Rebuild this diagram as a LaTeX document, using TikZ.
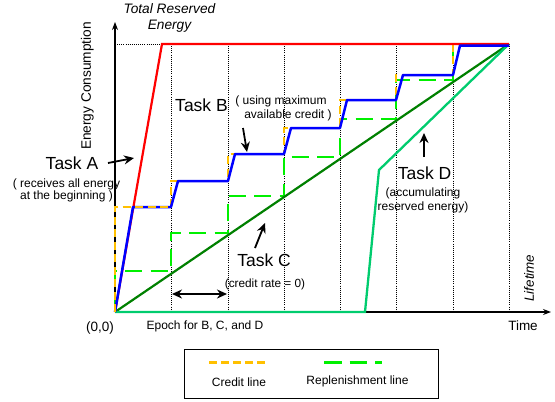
\documentclass[tikz,border=0pt]{standalone}
\usepackage{fontspec}
\setmainfont{Liberation Sans}
\usetikzlibrary{arrows.meta}
\definecolor{creditc}{RGB}{255,192,0}
\definecolor{replc}{RGB}{0,240,0}
\definecolor{taskcc}{RGB}{0,128,0}
\definecolor{taskdc}{RGB}{0,204,110}
\begin{document}
\begin{tikzpicture}[x=1pt,y=-1pt,
  lbl/.style={inner sep=0pt, font=\fontsize{#1}{#1}\selectfont, text height={0.72*#1pt}, text depth=0pt},
  ilbl/.style={inner sep=0pt, font=\fontsize{#1}{#1}\selectfont\itshape, text height={0.72*#1pt}, text depth=0pt},
  dotln/.style={black, line width=0.7pt, dash pattern=on 0.8pt off 1.3pt},
  axisln/.style={black, line width=1.1pt, -{Stealth[length=8pt,width=6pt]}},
  replln/.style={replc, line width=2.5pt, dash pattern=on 17pt off 8.5pt},
  creditln/.style={creditc, line width=2.5pt, dash pattern=on 8pt off 4.5pt},
  taskarrow/.style={black, line width=1.8pt, -{Stealth[length=10pt,width=9pt]}},
]
\useasboundingbox (0,0) rectangle (555,402);

% coordinates
\coordinate (O) at (115,312);
\coordinate (ytip) at (115,22);
\coordinate (xtip) at (551,312);
\coordinate (top) at (509,44);

% dotted guides
\foreach \x in {171,228,284,340,396,453,509}
  \draw[dotln] (\x,44) -- (\x,312);
\draw[dotln] (O |- top) -- (162,44);

% axes
\draw[axisln] (O) -- (ytip);
\draw[axisln] (O) -- (xtip);

% replenishment line
\draw[replln] (O) -- (115,271) -- (171,271) -- (171,233) -- (228,233) -- (228,196)
  -- (284,196) -- (284,157) -- (340,157) -- (340,119) -- (396,119) -- (396,80)
  -- (453,80) -- (453,44) -- (top);

% credit line
\draw[creditln] (171,207) -- (171,181) -- (228,181) -- (228,154) -- (284,154) -- (284,128)
  -- (340,128) -- (340,100) -- (396,100) -- (396,75) -- (453,75) -- (453,44) -- (top);

% Task C
\draw[taskcc, line width=2.2pt] (O) -- (top);
% Task D
\draw[taskdc, line width=2.3pt] (O) -- (365,312) -- (379,170) -- (top);
% Task A
\draw[red, line width=2.2pt] (O) -- (162,44) -- (top);
% Task B
\draw[blue, line width=2.5pt, line join=round] (O) -- (133,207) -- (171,207) -- (178,181) -- (228,181)
  -- (235,154) -- (284,154) -- (291,128) -- (340,128) -- (347,100) -- (396,100)
  -- (403,75) -- (453,75) -- (460,45.5) -- (509,45.5);
% first credit segment on top
\draw[creditln] (O) -- (115,207) -- (171,207);

% labels
\node[ilbl=13.7] (tre1) at (169.5,8.5) {Total Reserved};
\node[ilbl=13.7] (tre2) at (169.5,24.5) {Energy};
\node[lbl=13.7, rotate=90] (ec) at (86,86) {Energy Consumption};
\node[ilbl=13.4, rotate=90] (life) at (529,278) {Lifetime};
\node[lbl=13.5] (orig) at (100,327) {(0,0)};
\node[lbl=13.5] (time) at (523,326) {Time};
\node[lbl=12] (epoch) at (205,325) {Epoch for B, C, and D};

\node[lbl=17.5] (ta) at (72,163) {Task A};
\node[lbl=12] (ta1) at (66.5,183) {( receives all energy};
\node[lbl=12] (ta2) at (66.5,195.5) {at the beginning )};

\node[lbl=17.5] (tb) at (201.5,105) {Task B};
\node[lbl=12] (tb1) at (281,100) {( using maximum};
\node[lbl=12] (tb2) at (288,114) {available credit )};

\node[lbl=17.5] (tc) at (264,260) {Task C};
\node[lbl=11.8] (tc1) at (265,283) {(credit rate = 0)};

\node[lbl=17.5] (td) at (424.5,173) {Task D};
\node[lbl=12] (td1) at (423,192) {(accumulating};
\node[lbl=12] (td2) at (423,206) {reserved energy)};

% arrows
\coordinate (aA) at (108,163);
\coordinate (aAt) at (134,158);
\coordinate (aB) at (243,128);
\coordinate (aBt) at (247,152);
\coordinate (aC) at (255,248);
\coordinate (aCt) at (265,223);
\coordinate (aD) at (424,157);
\coordinate (aDt) at (424,133);
\coordinate (e1) at (172,294);
\coordinate (e2) at (227,294);
\draw[taskarrow] (aA) -- (aAt);
\draw[taskarrow] (aB) -- (aBt);
\draw[taskarrow] (aC) -- (aCt);
\draw[taskarrow] (aD) -- (aDt);
\draw[black, line width=1.8pt, {Stealth[length=10pt,width=9pt]}-{Stealth[length=10pt,width=9pt]}] (e1) -- (e2);

% legend
\node[draw, line width=0.9pt, minimum width=254pt, minimum height=49pt, inner sep=0pt] (legend) at (311,373.5) {};
\coordinate (lc1) at (209,362.7);
\coordinate (lc2) at (267,362.7);
\coordinate (lr1) at (324,362.7);
\coordinate (lr2) at (382,362.7);
\draw[creditc, line width=2.5pt, dash pattern=on 7.5pt off 4.5pt] (lc1) -- (lc2);
\draw[replc, line width=2.5pt, dash pattern=on 17.5pt off 8pt] (lr1) -- (lr2);
\node[lbl=12] (lcl) at (239,382) {Credit line};
\node[lbl=12] (lrl) at (357.5,380.5) {Replenishment line};
\end{tikzpicture}
\end{document}
